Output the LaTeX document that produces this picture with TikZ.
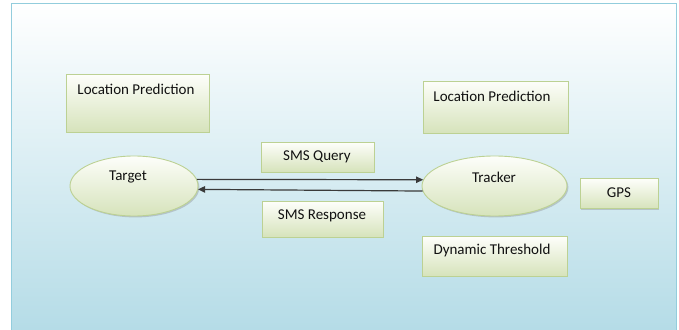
\documentclass[tikz,border=0pt]{standalone}
\usepackage{fontspec}
\setmainfont{Carlito}
\usetikzlibrary{shapes.geometric,shadows,arrows.meta}
\definecolor{bgblue}{HTML}{B5DCE7}
\definecolor{frameblue}{HTML}{93CDDD}
\definecolor{boxtop}{HTML}{FDFEFA}
\definecolor{boxbot}{HTML}{D6E3BB}
\definecolor{boxline}{HTML}{BCD193}
\definecolor{txt}{HTML}{111111}
\definecolor{arr}{HTML}{3A3A3A}
\begin{document}
\begin{tikzpicture}[x=1pt,y=-1pt,
  shapebase/.style={draw=boxline, line width=0.9pt, top color=boxtop, bottom color=boxbot,
    drop shadow={shadow xshift=1.4pt, shadow yshift=-1.4pt, opacity=0.35}, inner sep=0pt},
  box/.style={shapebase, rectangle},
  oval/.style={shapebase, ellipse},
  lbl/.style={inner sep=0pt, text=txt, font=\fontsize{15}{18}\selectfont},
  link/.style={draw=arr, line width=1.2pt, -{Triangle[length=7pt,width=6.5pt]}}]
\useasboundingbox (0,0) rectangle (679,329);
\fill[white] (0,0) rectangle (679,329);
\shade[top color=white, bottom color=bgblue] (11,3) rectangle (676,329);
\draw[frameblue, line width=0.9pt] (11,335) -- (11,3) -- (676,3) -- (676,335);

\node[box, minimum width=143pt, minimum height=57.5pt] (lpl) at (137.5,103.3) {};
\node[box, minimum width=145pt, minimum height=52pt] (lpr) at (495.5,107) {};
\node[box, minimum width=113pt, minimum height=29.3pt] (smsq) at (317.5,157.3) {};
\node[box, minimum width=121pt, minimum height=35.3pt] (smsr) at (322.5,219.3) {};
\node[box, minimum width=78pt, minimum height=30pt] (gps) at (619,193.7) {};
\node[box, minimum width=144.3pt, minimum height=39.3pt] (dyn) at (494.8,256.3) {};
\node[oval, minimum width=128pt, minimum height=60pt] (target) at (134,186) {};
\node[oval, minimum width=145pt, minimum height=60pt] (tracker) at (494.5,186) {};

\node[lbl] (lpltxt) at (136,89) {Location Prediction};
\node[lbl] (lprtxt) at (492,96) {Location Prediction};
\node[lbl] (smsqtxt) at (317,157) {SMS Query};
\node[lbl] (smsrtxt) at (322,215.7) {SMS Response};
\node[lbl] (gpstxt) at (619,193) {GPS};
\node[lbl] (dyntxt) at (492,250) {Dynamic Threshold};
\node[lbl] (targettxt) at (128,177) {Target};
\node[lbl] (trackertxt) at (494,177) {Tracker};

\draw[link] (target.6) -- (tracker.175);
\draw[link] (tracker.184) -- (target.357);
\end{tikzpicture}
\end{document}
